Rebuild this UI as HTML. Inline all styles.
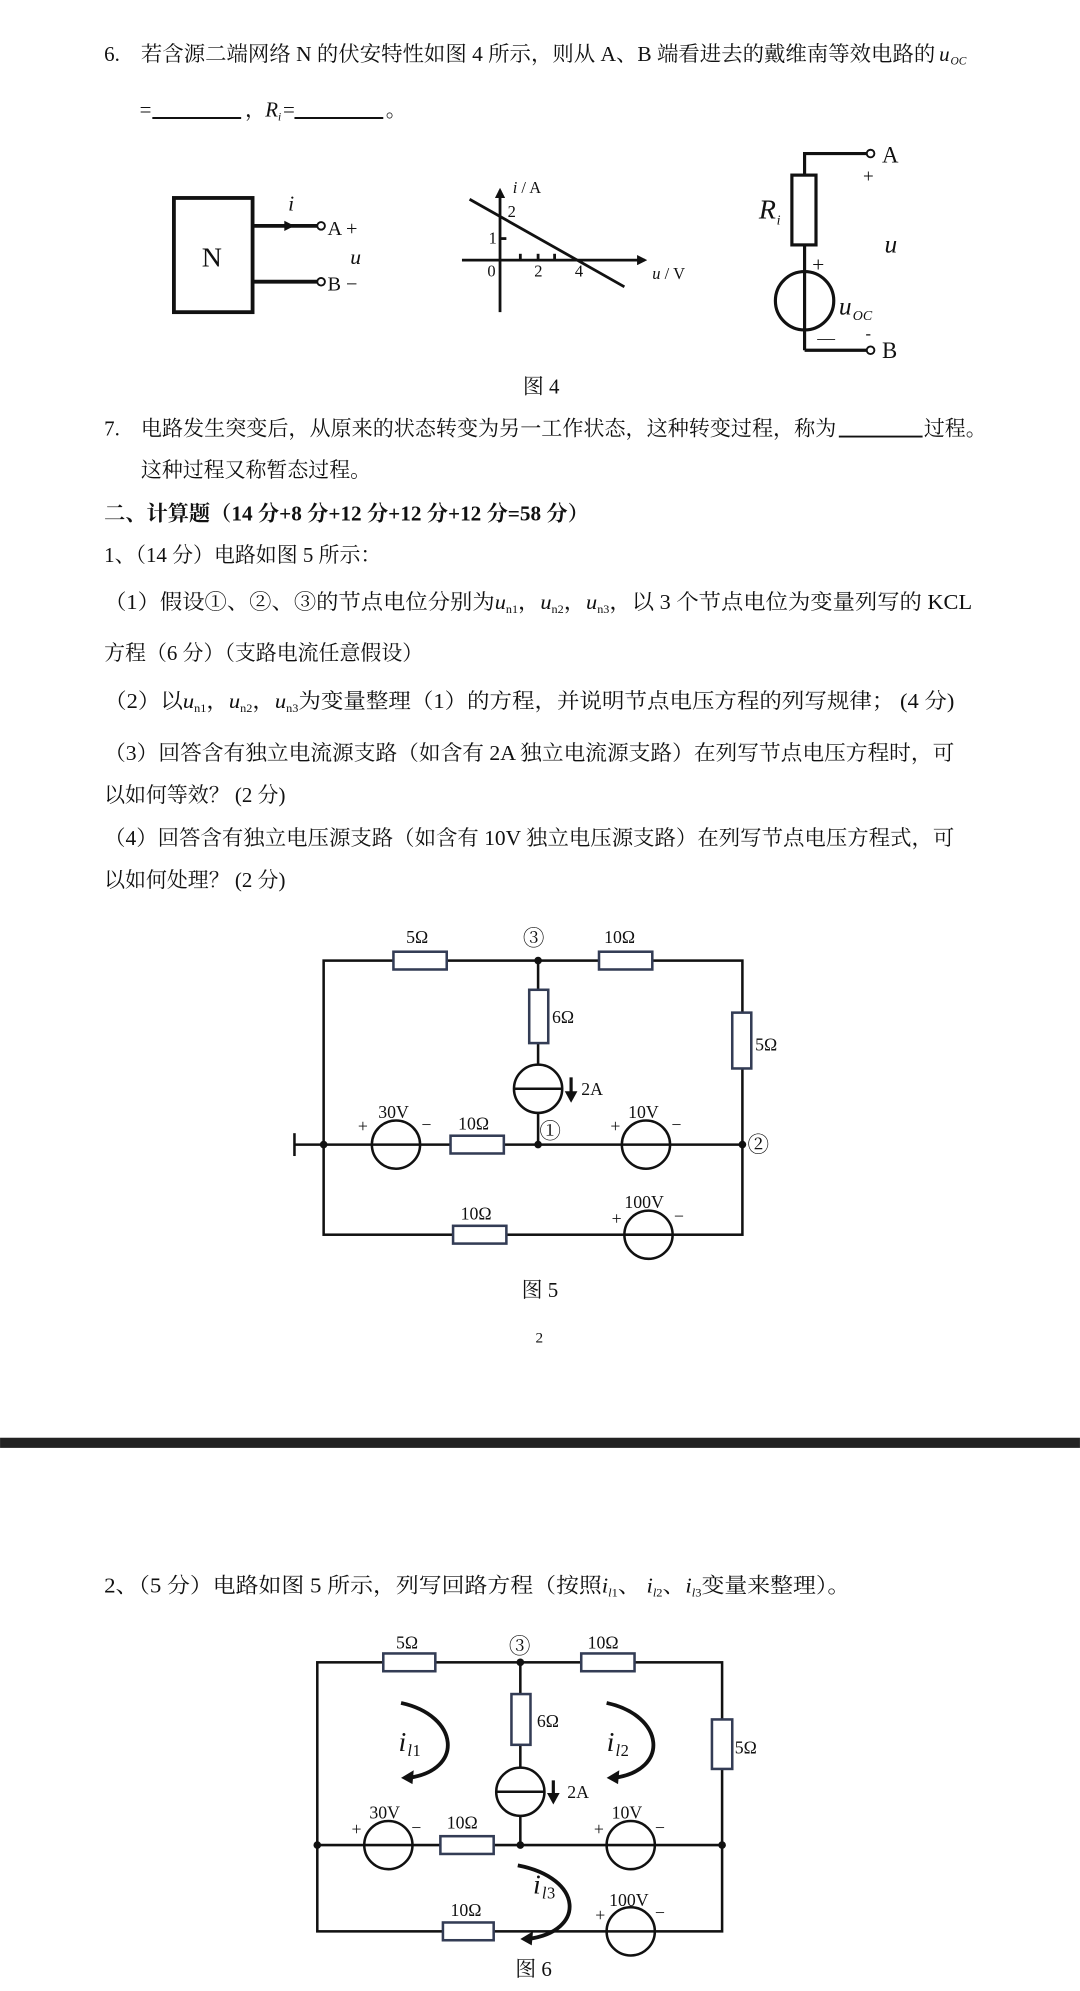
<!DOCTYPE html>
<html><head><meta charset="utf-8">
<style>
html,body{margin:0;padding:0;background:#fff;}
svg{display:block;}
text{font-family:"Liberation Serif","Noto Serif CJK SC",serif;fill:#111;}
.cn{font-size:16.5px;}
.lb{font-size:14px;}
.it{font-style:italic;}
</style></head><body>
<svg width="1080" height="1991" viewBox="0 0 851 1569" xmlns="http://www.w3.org/2000/svg">
<defs>
<marker id="ah" markerWidth="8" markerHeight="8" refX="6" refY="4" orient="auto" markerUnits="userSpaceOnUse">
<path d="M0,0 L8,4 L0,8 Z" fill="#111"/></marker>
</defs>
<rect width="851" height="1569" fill="#fff"/>

<!-- Q6 -->
<text class="cn" x="82" y="48">6.</text>
<text class="cn" x="111" y="48" textLength="626" lengthAdjust="spacingAndGlyphs">若含源二端网络 N 的伏安特性如图 4 所示，则从 A、B 端看进去的戴维南等效电路的</text>
<text class="cn it" x="740" y="48">u</text><text class="it" x="749" y="51" font-size="9">OC</text>
<text class="cn" x="110" y="92">=</text>
<line x1="120" y1="93" x2="190" y2="93" stroke="#111" stroke-width="1.5"/>
<text class="cn" x="193" y="92">，</text>
<text class="cn it" x="209" y="92">R</text><text class="it" x="219" y="95" font-size="9">i</text>
<text class="cn" x="223" y="92">=</text>
<line x1="232" y1="93" x2="302" y2="93" stroke="#111" stroke-width="1.5"/>
<text class="cn" x="304" y="92">。</text>

<!-- Fig 4 left -->
<g stroke="#111" fill="none" stroke-width="3">
<rect x="137" y="156" width="62" height="90"/>
<line x1="199" y1="178" x2="250" y2="178"/>
<line x1="199" y1="222" x2="250" y2="222"/>
</g>
<path d="M224,174 L232,178 L224,182Z" fill="#111"/>
<circle cx="253" cy="178" r="3" fill="#fff" stroke="#111" stroke-width="1.5"/>
<circle cx="253" cy="222" r="3" fill="#fff" stroke="#111" stroke-width="1.5"/>
<text x="159" y="210" font-size="22">N</text>
<text class="it" x="227" y="166" font-size="17">i</text>
<text x="258" y="185" font-size="16">A +</text>
<text class="it" x="276" y="208" font-size="17">u</text>
<text x="258" y="229" font-size="16">B −</text>

<!-- graph -->
<g stroke="#111" stroke-width="2.2" fill="none">
<line x1="394" y1="246" x2="394" y2="150" marker-end="url(#ah)"/>
<line x1="364" y1="205" x2="508" y2="205" marker-end="url(#ah)"/>
<line x1="370" y1="157" x2="492" y2="226"/>
<line x1="410" y1="205" x2="410" y2="200"/><line x1="424" y1="205" x2="424" y2="200"/><line x1="437" y1="205" x2="437" y2="200"/>
<line x1="394" y1="188" x2="399" y2="188"/>
</g>
<text x="404" y="152" font-size="13"><tspan font-style="italic">i</tspan> / A</text>
<text x="400" y="171" font-size="13">2</text>
<text x="385" y="192" font-size="13">1</text>
<text x="384" y="218" font-size="13">0</text>
<text x="421" y="218" font-size="13">2</text>
<text x="453" y="218" font-size="13">4</text>
<text x="514" y="220" font-size="13"><tspan font-style="italic">u</tspan> / V</text>

<!-- thevenin -->
<g stroke="#111" stroke-width="2.5" fill="none">
<polyline points="683,121 634,121 634,138"/>
<rect x="624" y="138" width="19" height="55"/>
<line x1="634" y1="193" x2="634" y2="276"/>
<circle cx="634" cy="237" r="23"/>
<polyline points="634,276 683,276"/>
</g>
<circle cx="686" cy="121" r="3" fill="#fff" stroke="#111" stroke-width="1.5"/>
<circle cx="686" cy="276" r="3" fill="#fff" stroke="#111" stroke-width="1.5"/>
<text x="695" y="128" font-size="18">A</text>
<text x="680" y="144" font-size="15">+</text>
<text class="it" x="598" y="172" font-size="22">R</text><text class="it" x="612" y="177" font-size="11">i</text>
<text class="it" x="697" y="199" font-size="20">u</text>
<text x="640" y="214" font-size="17">+</text>
<text class="it" x="661" y="248" font-size="20">u</text><text class="it" x="672" y="252" font-size="11">OC</text>
<text x="644" y="271" font-size="14">—</text>
<text x="682" y="267" font-size="13">-</text>
<text x="695" y="282" font-size="18">B</text>
<text class="cn" x="412" y="310">图 4</text>

<!-- Q7 -->
<text class="cn" x="82" y="343">7.</text>
<text class="cn" x="111" y="343" textLength="548" lengthAdjust="spacingAndGlyphs">电路发生突变后，从原来的状态转变为另一工作状态，这种转变过程，称为</text>
<line x1="661" y1="344" x2="727" y2="344" stroke="#111" stroke-width="1.5"/>
<text class="cn" x="728" y="343">过程。</text>
<text class="cn" x="111" y="376">这种过程又称暂态过程。</text>

<text class="cn" x="82" y="410" font-weight="bold" textLength="382" lengthAdjust="spacingAndGlyphs">二、计算题（14 分+8 分+12 分+12 分+12 分=58 分）</text>
<text class="cn" x="82" y="443">1、（14 分）电路如图 5 所示：</text>
<text class="cn" x="82" y="480" textLength="684" lengthAdjust="spacingAndGlyphs">（1）假设①、②、③的节点电位分别为<tspan font-style="italic">u</tspan><tspan font-size="9" dy="3">n1</tspan><tspan dy="-3">，</tspan><tspan font-style="italic">u</tspan><tspan font-size="9" dy="3">n2</tspan><tspan dy="-3">，</tspan><tspan font-style="italic">u</tspan><tspan font-size="9" dy="3">n3</tspan><tspan dy="-3">，以 3 个节点电位为变量列写的 KCL</tspan></text>
<text class="cn" x="82" y="520">方程（6 分）（支路电流任意假设）</text>
<text class="cn" x="82" y="558" textLength="670" lengthAdjust="spacingAndGlyphs">（2）以<tspan font-style="italic">u</tspan><tspan font-size="9" dy="3">n1</tspan><tspan dy="-3">，</tspan><tspan font-style="italic">u</tspan><tspan font-size="9" dy="3">n2</tspan><tspan dy="-3">，</tspan><tspan font-style="italic">u</tspan><tspan font-size="9" dy="3">n3</tspan><tspan dy="-3">为变量整理（1）的方程，并说明节点电压方程的列写规律；  (4 分)</tspan></text>
<text class="cn" x="82" y="599" textLength="670" lengthAdjust="spacingAndGlyphs">（3）回答含有独立电流源支路（如含有 2A 独立电流源支路）在列写节点电压方程时，可</text>
<text class="cn" x="82" y="632">以如何等效？ (2 分)</text>
<text class="cn" x="82" y="666" textLength="670" lengthAdjust="spacingAndGlyphs">（4）回答含有独立电压源支路（如含有 10V 独立电压源支路）在列写节点电压方程式，可</text>
<text class="cn" x="82" y="699">以如何处理？   (2 分)</text>

<!-- Fig 5 -->
<g stroke="#111" stroke-width="2" fill="none">
<rect x="255" y="757" width="330" height="216"/>
<line x1="232" y1="902" x2="585" y2="902"/>
<line x1="232" y1="893" x2="232" y2="911"/>
<line x1="424" y1="757" x2="424" y2="902"/>
</g>
<g stroke="#333c55" stroke-width="2" fill="#fff">
<rect x="310" y="750" width="42" height="14"/>
<rect x="472" y="750" width="42" height="14"/>
<rect x="577" y="798" width="15" height="44"/>
<rect x="417" y="780" width="15" height="42"/>
<rect x="355" y="895" width="42" height="14"/>
<rect x="357" y="966" width="42" height="14"/>
</g>
<g stroke="#111" stroke-width="2" fill="#fff">
<circle cx="424" cy="858" r="19"/><line x1="405" y1="858" x2="443" y2="858"/>
<circle cx="312" cy="902" r="19"/><line x1="293" y1="902" x2="331" y2="902"/>
<circle cx="509" cy="902" r="19"/><line x1="490" y1="902" x2="528" y2="902"/>
<circle cx="511" cy="973" r="19"/><line x1="492" y1="973" x2="530" y2="973"/>
</g>
<line x1="450" y1="849" x2="450" y2="862" stroke="#111" stroke-width="2.5"/>
<path d="M445,860 L450,869 L455,860Z" fill="#111"/>
<g fill="#111"><circle cx="424" cy="757" r="3"/><circle cx="424" cy="902" r="3"/><circle cx="255" cy="902" r="3"/><circle cx="585" cy="902" r="3"/></g>
<text class="lb" x="320" y="743">5Ω</text>
<text x="412" y="745" font-size="17">③</text>
<text class="lb" x="476" y="743">10Ω</text>
<text class="lb" x="595" y="828">5Ω</text>
<text class="lb" x="435" y="806">6Ω</text>
<text class="lb" x="458" y="863">2A</text>
<text x="425" y="897" font-size="17">①</text>
<text x="589" y="908" font-size="17">②</text>
<text class="lb" x="282" y="892">+</text><text class="lb" x="298" y="881">30V</text><text class="lb" x="332" y="891">−</text>
<text class="lb" x="361" y="890">10Ω</text>
<text class="lb" x="481" y="892">+</text><text class="lb" x="495" y="881">10V</text><text class="lb" x="529" y="891">−</text>
<text class="lb" x="363" y="961">10Ω</text>
<text class="lb" x="482" y="965">+</text><text class="lb" x="492" y="952">100V</text><text class="lb" x="531" y="963">−</text>
<text class="cn" x="411" y="1022">图 5</text>
<text x="422" y="1058" font-size="12">2</text>

<rect x="0" y="1133" width="851" height="8" fill="#222"/>

<!-- Q2 -->
<text class="cn" x="82" y="1255" textLength="588" lengthAdjust="spacingAndGlyphs">2、（5 分）电路如图 5 所示，列写回路方程（按照<tspan font-style="italic">i</tspan><tspan font-size="9" dy="3" font-style="italic">l</tspan><tspan font-size="9">1</tspan><tspan dy="-3">、 </tspan><tspan font-style="italic">i</tspan><tspan font-size="9" dy="3" font-style="italic">l</tspan><tspan font-size="9">2</tspan><tspan dy="-3">、</tspan><tspan font-style="italic">i</tspan><tspan font-size="9" dy="3" font-style="italic">l</tspan><tspan font-size="9">3</tspan><tspan dy="-3">变量来整理）。</tspan></text>

<!-- Fig 6 -->
<g stroke="#111" stroke-width="2" fill="none">
<rect x="250" y="1310" width="319" height="212"/>
<line x1="250" y1="1454" x2="569" y2="1454"/>
<line x1="410" y1="1310" x2="410" y2="1454"/>
</g>
<g stroke="#333c55" stroke-width="2" fill="#fff">
<rect x="302" y="1303" width="41" height="14"/>
<rect x="458" y="1303" width="42" height="14"/>
<rect x="561" y="1355" width="16" height="39"/>
<rect x="403" y="1335" width="15" height="40"/>
<rect x="347" y="1447" width="42" height="14"/>
<rect x="349" y="1515" width="40" height="14"/>
</g>
<g stroke="#111" stroke-width="2" fill="#fff">
<circle cx="410" cy="1412" r="19"/><line x1="391" y1="1412" x2="429" y2="1412"/>
<circle cx="306" cy="1454" r="19"/><line x1="287" y1="1454" x2="325" y2="1454"/>
<circle cx="497" cy="1454" r="19"/><line x1="478" y1="1454" x2="516" y2="1454"/>
<circle cx="497" cy="1522" r="19"/><line x1="478" y1="1522" x2="516" y2="1522"/>
</g>
<line x1="436" y1="1403" x2="436" y2="1415" stroke="#111" stroke-width="2.5"/>
<path d="M431,1413 L436,1422 L441,1413Z" fill="#111"/>
<g fill="#111"><circle cx="410" cy="1310" r="3"/><circle cx="410" cy="1454" r="3"/><circle cx="250" cy="1454" r="3"/><circle cx="569" cy="1454" r="3"/></g>
<g stroke="#111" stroke-width="3" fill="none">
<path d="M316,1342 C362,1352 366,1395 322,1401"/>
<path d="M478,1342 C524,1352 528,1395 484,1401"/>
<path d="M408,1470 C460,1480 462,1522 416,1528"/>
</g>
<g fill="#111">
<path d="M316,1401 L326,1395 L325,1406Z"/>
<path d="M478,1401 L488,1395 L487,1406Z"/>
<path d="M410,1528 L420,1522 L419,1533Z"/>
</g>
<text class="lb" x="312" y="1299">5Ω</text>
<text x="401" y="1303" font-size="17">③</text>
<text class="lb" x="463" y="1299">10Ω</text>
<text class="lb" x="579" y="1382">5Ω</text>
<text class="lb" x="423" y="1361">6Ω</text>
<text class="lb" x="447" y="1417">2A</text>
<text class="lb" x="277" y="1446">+</text><text class="lb" x="291" y="1433">30V</text><text class="lb" x="324" y="1445">−</text>
<text class="lb" x="352" y="1441">10Ω</text>
<text class="lb" x="468" y="1446">+</text><text class="lb" x="482" y="1433">10V</text><text class="lb" x="516" y="1445">−</text>
<text class="lb" x="355" y="1510">10Ω</text>
<text class="lb" x="469" y="1514">+</text><text class="lb" x="480" y="1502">100V</text><text class="lb" x="516" y="1512">−</text>
<text class="it" x="314" y="1380" font-size="22">i</text><text class="it" x="321" y="1384" font-size="13">l</text><text x="325" y="1384" font-size="13">1</text>
<text class="it" x="478" y="1380" font-size="22">i</text><text class="it" x="485" y="1384" font-size="13">l</text><text x="489" y="1384" font-size="13">2</text>
<text class="it" x="420" y="1492" font-size="22">i</text><text class="it" x="427" y="1496" font-size="13">l</text><text x="431" y="1496" font-size="13">3</text>
<text class="cn" x="406" y="1557">图 6</text>
</svg>
</body></html>
